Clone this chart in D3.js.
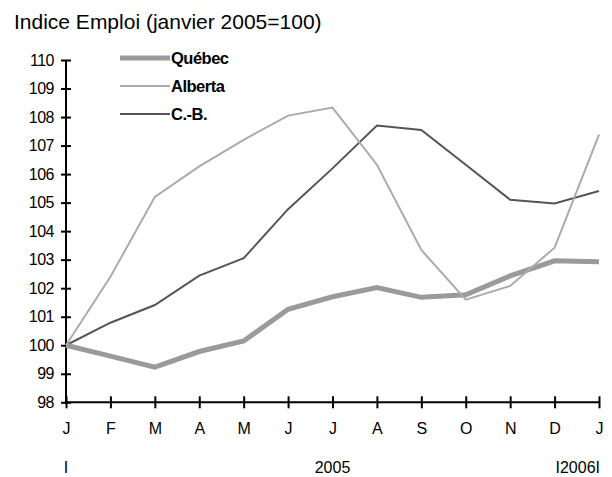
<!DOCTYPE html>
<html><head><meta charset="utf-8">
<script src="https://cdn.jsdelivr.net/npm/d3@7"></script>
<style>body{margin:0;background:#fff}svg{display:block}text{font-family:"Liberation Sans",Arial,sans-serif}</style>
</head><body>
<svg id="c" width="612" height="477"></svg>
<script>
const months = ["J","F","M","A","M","J","J","A","S","O","N","D","J"];
const quebec  = [100, 99.62, 99.23, 99.78, 100.15, 101.26, 101.7, 102.02, 101.68, 101.77, 102.43, 102.96, 102.93];
const alberta = [100, 102.4, 105.2, 106.27, 107.2, 108.05, 108.33, 106.33, 103.34, 101.6, 102.08, 103.42, 107.38];
const cb      = [100, 100.79, 101.41, 102.44, 103.05, 104.77, 106.2, 107.7, 107.55, 106.33, 105.1, 104.97, 105.41];
const yTicks  = [98,99,100,101,102,103,104,105,106,107,108,109,110];
const seriesNames = ["Québec","Alberta","C.-B."];
const yearLabels = ["I","2005","I2006I"];

const svg = d3.select("#c");
const x = d3.scaleLinear().domain([0,12]).range([66,599]);
const y = d3.scaleLinear().domain([98,110]).range([402.3,60]);

svg.append("text").attr("x",14).attr("y",29).attr("font-size",21).attr("fill","#000")
  .text("Indice Emploi (janvier 2005=100)");

const styles = [
  {c:"#9a9a9a", w:5},
  {c:"#ababab", w:2},
  {c:"#555555", w:2}
];
const data = [quebec, alberta, cb];
const line = d3.line().x((d,i)=>x(i)).y(d=>y(d));

// y axis
const yAxis = svg.append("g").attr("transform","translate(66,0)")
  .call(d3.axisLeft(y).tickValues(yTicks).tickSize(5).tickPadding(8).tickFormat(d3.format("d")));
yAxis.selectAll(".tick line").attr("x2",-5).attr("x1",5).attr("stroke","#000").attr("stroke-width",2);
yAxis.select(".domain").attr("stroke","#000").attr("stroke-width",2).attr("d","M0,60V402.3");
yAxis.selectAll("text").attr("font-size",16).attr("font-family","Liberation Sans, Arial").attr("fill","#000").attr("x",-12).attr("letter-spacing","-0.5");

// x axis
const xAxis = svg.append("g").attr("transform","translate(0,402.3)")
  .call(d3.axisBottom(x).tickValues(d3.range(13)).tickSize(6).tickFormat(i=>months[i]));
xAxis.selectAll(".tick line").attr("y1",-6).attr("y2",6).attr("stroke","#000").attr("stroke-width",2);
xAxis.select(".domain").attr("stroke","#000").attr("stroke-width",2).attr("d","M66,0H599");
xAxis.selectAll("text").attr("font-size",16).attr("font-family","Liberation Sans, Arial").attr("fill","#000").attr("y",20).attr("dy","0.71em");

// year labels
svg.append("text").attr("x",x(0)).attr("y",473).attr("font-size",16).attr("text-anchor","middle").text(yearLabels[0]);
svg.append("text").attr("x",x(6)).attr("y",473).attr("font-size",16).attr("text-anchor","middle").text(yearLabels[1]);
svg.append("text").attr("x",x(12)+1).attr("y",473).attr("font-size",16).attr("text-anchor","end").text(yearLabels[2]);

// lines
[2,0,1].forEach(k=>{
  svg.append("path").datum(data[k]).attr("d",line).attr("fill","none")
    .attr("stroke",styles[k].c).attr("stroke-width",styles[k].w).attr("stroke-linejoin","miter");
});

// legend
const legY = [58,86,114];
seriesNames.forEach((n,k)=>{
  svg.append("line").attr("x1",120).attr("x2",170).attr("y1",legY[k]).attr("y2",legY[k])
    .attr("stroke",styles[k].c).attr("stroke-width",styles[k].w);
  svg.append("text").attr("x",171).attr("y",legY[k]+6).attr("font-size",16.5).attr("font-weight","bold")
    .attr("letter-spacing","-0.5").text(n);
});
</script>
</body></html>
